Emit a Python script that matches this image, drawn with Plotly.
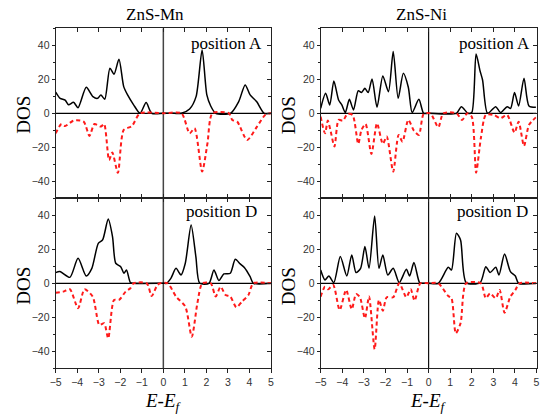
import plotly.graph_objects as go

# ---------------- data ----------------
MN_A_UP_E = [-5, -4.79, -4.56, -4.4, -4.17, -3.96, -3.58, -3.27, -3.05, -2.9, -2.72, -2.48, -2.29, -2.06, -1.84, -1.66, -1.38, -1.08, -0.8, -0.54, 0, 0.5, 0.84, 1.22, 1.52, 1.8, 2.02, 2.2, 2.43, 3.12, 3.5, 3.8, 4.03, 4.33, 4.68, 5]
MN_A_UP = [12.5, 8.8, 7.8, 5, 6.5, 3.3, 15.3, 9.8, 8.8, 10.8, 8.3, 26.5, 23, 31.8, 15.7, 10.8, 5, 0, 6.3, 0, 0, 0, 0, 2.5, 9.8, 37.3, 10.8, 4.3, 0, 0, 6.9, 16.7, 10.8, 6.9, 0, 0]
MN_A_DN_E = [-5, -4.73, -4.56, -4.17, -3.7, -3.43, -3.2, -2.9, -2.75, -2.52, -2.37, -2.11, -1.84, -1.46, -1.08, 0, 0.84, 1.22, 1.45, 1.8, 2.05, 2.28, 3.05, 3.2, 3.43, 3.89, 4.35, 4.73, 5]
MN_A_DN = [-11.8, -6.3, -7.5, -4.3, -4.9, -13.3, -6.3, -7.8, -6.3, -27.5, -23, -35, -9.8, -7.5, 0, 0, 0, -11.8, -8.8, -34.3, -17.6, 0, 0, -3.9, -4.9, -15.7, -7.8, -1, 0]

MN_D_UP_E = [-5, -4.8, -4.34, -3.96, -3.58, -3.32, -3.02, -2.82, -2.56, -2.36, -2.21, -1.98, -1.83, -1.71, -1.53, -1.4, 0, 0.14, 0.35, 0.59, 0.82, 1.02, 1.29, 1.51, 1.69, 2.12, 2.35, 2.58, 2.81, 3.11, 3.34, 3.57, 3.77, 4.03, 4.18, 5]
MN_D_UP = [6.3, 6.9, 3.5, 14.7, 4.3, 8.8, 23.5, 25.5, 37.8, 27.5, 11.8, 9.8, 5.9, 7.8, 0.4, 0, 0, 0, 2.9, 8.8, 4.9, 11.8, 34.3, 15.7, 0, 0, 7.8, 1.6, 5.5, 5.9, 14.1, 11.4, 9.2, 3.9, 0, 0]
MN_D_DN_E = [-5, -4.65, -4.34, -3.96, -3.66, -3.28, -2.97, -2.75, -2.56, -2.29, -2.06, -1.75, -1.53, -1.38, -0.77, -0.54, -0.28, -0.15, 0.2, 0.59, 1.02, 1.32, 1.58, 1.81, 2.2, 2.43, 2.66, 2.89, 3.11, 3.39, 3.65, 3.95, 4.18, 5]
MN_D_DN = [-5.5, -4.9, -3.5, -14.7, -3.5, -7.8, -24.5, -23.5, -32.4, -9.8, -9.8, -4.9, -2.9, 0, 0, -7.5, -1, 0, 0, -7.8, -13.7, -31.4, -11.8, 0, 0, -7.8, -2, -6.9, -7.8, -14.1, -10.8, -6.9, 0, 0]

NI_A_UP_E = [-5, -4.77, -4.58, -4.39, -4.17, -4.02, -3.86, -3.67, -3.48, -3.26, -3.11, -2.95, -2.8, -2.62, -2.39, -2.12, -1.86, -1.64, -1.41, -1.17, -0.94, -0.76, -0.45, -0.23, 0, 1.29, 1.52, 1.82, 2.0, 2.2, 2.38, 2.5, 2.73, 3.11, 3.33, 3.64, 3.8, 3.98, 4.17, 4.42, 4.65, 4.97]
NI_A_UP = [2.9, 11.8, 4.9, 19, 7.8, 4.9, 0.4, 8.2, 2, 13.3, 12.2, 14.7, 12.2, 20.2, 3.5, 22, 12.7, 36.3, 8.8, 23.5, 15.3, 0.4, 8.2, 0, 0, 0, 3.9, 0, 0.4, 34.9, 25.1, 19.6, 0, 3.9, 0.4, 3.9, 2.9, 12.2, 4.3, 20.6, 4.3, 3.5]
NI_A_DN_E = [-5, -4.8, -4.67, -4.55, -4.36, -4.17, -3.97, -3.76, -3.52, -3.26, -3.11, -2.92, -2.65, -2.39, -2.12, -1.94, -1.64, -1.39, -1.21, -0.94, -0.68, -0.45, -0.23, 0.08, 0.45, 0.68, 1.29, 1.55, 1.79, 2.0, 2.2, 2.42, 2.65, 3.03, 3.33, 3.64, 3.98, 4.17, 4.42, 4.65, 4.97]
NI_A_DN = [-2, -11.8, -4.3, -9.8, -19.6, -3.9, -4.3, -0.4, -1, -18, -9.8, -6.3, -23.9, -5.9, -18, -13.7, -34.3, -12.7, -16.7, -3.9, -10.2, -12.7, -0.4, 0, -8.2, 0, 0, -3.9, 0, -2, -34.9, -14.7, -1, -1, -2.9, -1, -11.4, -4.9, -19.2, -6.9, -2.4]

NI_D_UP_E = [-5, -4.8, -4.62, -4.39, -4.09, -3.79, -3.56, -3.36, -3.15, -2.95, -2.76, -2.5, -2.3, -2.12, -1.89, -1.64, -1.36, -1.03, -0.88, -0.68, -0.42, -0.3, 0, 0.45, 0.91, 1.06, 1.29, 1.48, 1.74, 2.39, 2.65, 2.85, 3.11, 3.26, 3.52, 3.79, 4.02, 4.17, 5]
NI_D_UP = [7.8, 2, 4.3, 0.4, 15.7, 4.3, 16.7, 6.3, 8.8, 21.6, 8.8, 39.6, 8.8, 16.7, 4.9, 8.8, 0.4, 8.2, 4.3, 12.2, 0.4, 0, 0, 0, 9.4, 7.8, 29.4, 25.5, 0.4, 0.4, 9.8, 6.3, 9.4, 4.9, 17.3, 6.9, 4.3, 0, 0]
NI_D_DN_E = [-5, -4.8, -4.65, -4.42, -4.12, -3.82, -3.56, -3.36, -3.18, -2.95, -2.76, -2.5, -2.3, -2.12, -1.94, -1.64, -1.36, -1.03, -0.83, -0.65, -0.38, 0, 0.45, 0.91, 1.06, 1.26, 1.48, 1.74, 2.42, 2.65, 2.85, 3.11, 3.29, 3.52, 3.79, 4.02, 4.21, 5]
NI_D_DN = [-7.8, -2, -3.5, -1, -15.7, -3.9, -15.3, -6.3, -8.2, -20.6, -7.8, -38.8, -9.8, -16.1, -8.2, -8.2, 0, -8.2, -3.5, -10.2, 0, 0, 0, -7.5, -8.8, -29.4, -23.5, 0, 0, -8.8, -5.9, -8.8, -3.9, -17.3, -7.8, -3.9, 0, 0]

X_TICKS = [-5, -4, -3, -2, -1, 0, 1, 2, 3, 4, 5]
Y_TICKS = [-40, -20, 0, 20, 40]
COLUMN_TITLES = ["ZnS-Mn", "ZnS-Ni"]
PANEL_LABELS = ["position A", "position A", "position D", "position D"]

PANELS = [
    (MN_A_UP_E, MN_A_UP, MN_A_DN_E, MN_A_DN),
    (NI_A_UP_E, NI_A_UP, NI_A_DN_E, NI_A_DN),
    (MN_D_UP_E, MN_D_UP, MN_D_DN_E, MN_D_DN),
    (NI_D_UP_E, NI_D_UP, NI_D_DN_E, NI_D_DN),
]

# ---------------- layout geometry ----------------
W, H = 541, 419
XDOM = [[50.5 / W, 269.5 / W], [320 / W, 539.5 / W]]
YDOM = [[(H - 198.3) / H, (H - 28.3) / H], [(H - 368.3) / H, (H - 198.3) / H]]

SERIF = "Liberation Serif, Times New Roman, serif"
SANS = "Liberation Sans, Arial, sans-serif"
AXC = "#222222"

fig = go.Figure()
layout = {}

def aname(prefix, k):
    return prefix if k == 1 else f"{prefix}{k}"

for i, (ue, u, de, d) in enumerate(PANELS):
    k = i + 1
    row, col = i // 2, i % 2
    xa, ya = aname("x", k), aname("y", k)
    xo, yo = f"x{k + 4}", f"y{k + 4}"
    fig.add_trace(go.Scatter(x=ue, y=u, mode="lines", xaxis=xa, yaxis=ya,
                             line=dict(color="black", width=1.5, shape="spline", smoothing=0.7),
                             showlegend=False, hoverinfo="skip"))
    fig.add_trace(go.Scatter(x=de, y=d, mode="lines", xaxis=xa, yaxis=ya,
                             line=dict(color="#ff1a1a", width=2, dash="4px,3px", shape="spline", smoothing=0.7),
                             showlegend=False, hoverinfo="skip"))
    # dummy trace to activate mirrored (top/right) axes
    fig.add_trace(go.Scatter(x=[0], y=[0], mode="lines", xaxis=xo, yaxis=yo,
                             line=dict(width=0), showlegend=False, hoverinfo="skip"))

    bottom = row == 1
    layout[aname("xaxis", k)] = dict(
        domain=XDOM[col], anchor=ya, range=[-5, 5], tickvals=X_TICKS,
        ticks="outside" if bottom else "inside", ticklen=4, tickwidth=1, tickcolor=AXC,
        showticklabels=bottom, showline=True, linecolor=AXC, linewidth=1,
        showgrid=False, zeroline=False,
        tickfont=dict(family=SANS, size=10.5, color="#333"),
    )
    layout[aname("yaxis", k)] = dict(
        domain=YDOM[row], anchor=xa, range=[-50, 50], tickvals=Y_TICKS,
        ticks="outside", ticklen=3, tickwidth=1, tickcolor=AXC,
        minor=dict(dtick=10, tick0=0, ticks="outside", ticklen=2, tickcolor=AXC),
        showline=True, linecolor=AXC, linewidth=1, showgrid=False, zeroline=False,
        tickfont=dict(family=SANS, size=10.5, color="#333"),
    )
    layout[f"xaxis{k + 4}"] = dict(
        overlaying=xa, anchor=yo, side="top", range=[-5, 5], tickvals=X_TICKS,
        ticks="inside", ticklen=4, tickcolor=AXC, showticklabels=False,
        showline=True, linecolor=AXC, linewidth=1, showgrid=False, zeroline=False,
    )
    layout[f"yaxis{k + 4}"] = dict(
        overlaying=ya, anchor=xo, side="right", range=[-50, 50], tickvals=Y_TICKS,
        ticks="inside", ticklen=4, tickcolor=AXC,
        minor=dict(dtick=10, tick0=0, ticks="inside", ticklen=3, tickcolor=AXC),
        showticklabels=False, showline=True, linecolor=AXC, linewidth=1,
        showgrid=False, zeroline=False,
    )
    # reference lines at E=0 and DOS=0
    fig.add_shape(type="line", xref=xa, yref=ya, x0=0, x1=0, y0=-50, y1=50,
                  line=dict(color="#444" if col == 0 else "#111", width=1.5 if col == 0 else 1.2), layer="below")
    fig.add_shape(type="line", xref=xa, yref=ya, x0=-5, x1=5, y0=0, y1=0,
                  line=dict(color="black", width=1.3), layer="below")

annotations = []
for col, t in enumerate(COLUMN_TITLES):
    annotations.append(dict(text=t, x=[152 / W, 423 / W][col], y=(H - 14) / H, xref="paper", yref="paper",
                            showarrow=False, font=dict(family=SERIF, size=17, color="black"),
                            xanchor="center", yanchor="middle"))
pos_x = [262 / W, 535 / W, 257 / W, 533 / W]
pos_y = [(H - 43) / H, (H - 43) / H, (H - 211) / H, (H - 211) / H]
for i, t in enumerate(PANEL_LABELS):
    annotations.append(dict(text=t, x=pos_x[i], y=pos_y[i], xref="paper", yref="paper",
                            showarrow=False, font=dict(family=SERIF, size=17, color="black"),
                            xanchor="right", yanchor="middle"))
for col in range(2):
    for row in range(2):
        annotations.append(dict(text="DOS", x=[17 / W, 287 / W][col], y=[(H - 115) / H, (H - 286) / H][row],
                                xref="paper", yref="paper", showarrow=False, textangle=-90,
                                font=dict(family=SERIF, size=19, color="black"),
                                xanchor="center", yanchor="middle"))
    annotations.append(dict(text="<i>E</i>-<i>E<sub>f</sub></i>", x=[160 / W, 430 / W][col], y=(H - 402) / H,
                            xref="paper", yref="paper", showarrow=False,
                            font=dict(family=SERIF, size=19, color="black"),
                            xanchor="center", yanchor="middle"))

fig.update_layout(
    width=W, height=H, margin=dict(l=0, r=0, t=0, b=0),
    paper_bgcolor="white", plot_bgcolor="rgba(0,0,0,0)",
    annotations=annotations, **layout,
)

fig.write_html("out.html", config={"displayModeBar": False},
               post_script="document.body.style.margin='0';document.body.style.overflow='hidden';")
